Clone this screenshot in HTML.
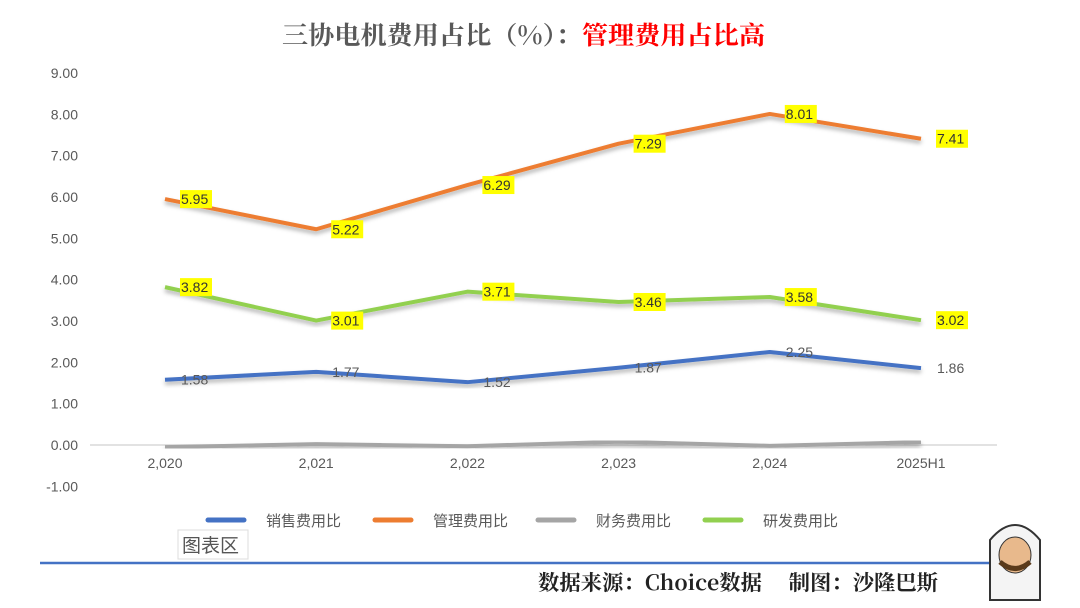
<!DOCTYPE html>
<html><head><meta charset="utf-8"><style>
body{margin:0;background:#fff;width:1080px;height:603px;overflow:hidden;font-family:"Liberation Sans","Noto Sans CJK SC",sans-serif}
</style></head><body>
<svg id="c" width="1080" height="603" xmlns="http://www.w3.org/2000/svg">
<defs><filter id="sh" x="-5%" y="-20%" width="110%" height="140%"><feDropShadow dx="0" dy="3" stdDeviation="2" flood-color="#000" flood-opacity="0.3"/></filter></defs>
<text x="282" y="44" font-size="25" font-weight="bold" fill="#595959" font-family="'Noto Serif CJK SC',serif" textLength="483" lengthAdjust="spacingAndGlyphs">三协电机费用占比（%）：<tspan fill="#ff0000">管理费用占比高</tspan></text>
<g id="axes"></g><g id="series"></g>
<rect x="178" y="530" width="70" height="29" fill="#fff" stroke="#ddd"/>
<text x="182" y="552" font-size="19" fill="#555">图表区</text>
<line x1="40" y1="563" x2="1000" y2="563" stroke="#4472c4" stroke-width="2.5"/>
<text x="538" y="590" font-size="21" fill="#222" font-weight="bold" font-family="'Noto Serif CJK SC',serif" textLength="400" lengthAdjust="spacingAndGlyphs">数据来源：Choice数据　 制图：沙隆巴斯</text>
<g>
<path d="M990 540 Q1015 510 1040 540 L1040 600 L990 600 Z" fill="#f4f4f4" stroke="#333" stroke-width="2"/>
<ellipse cx="1015" cy="555" rx="16" ry="18" fill="#e8b98c" stroke="#333"/>
<path d="M1000 562 Q1015 575 1030 562" stroke="#5a3a1a" stroke-width="5" fill="none"/>
</g>
</svg>
<script>
const categories=["2,020","2,021","2,022","2,023","2,024","2025H1"];
const salesRatio=[1.58,1.77,1.52,1.87,2.25,1.86];
const adminRatio=[5.95,5.22,6.29,7.29,8.01,7.41];
const financeRatio=[-0.05,0.02,-0.03,0.08,-0.02,0.07];
const rdRatio=[3.82,3.01,3.71,3.46,3.58,3.02];
const yTicks=[9,8,7,6,5,4,3,2,1,0,-1];
const NS="http://www.w3.org/2000/svg";
const X=i=>165+i*151.2, Y=v=>445-41.33*v;
function mk(t,a,p){const e=document.createElementNS(NS,t);for(const k in a)e.setAttribute(k,a[k]);p.appendChild(e);return e;}
const ax=document.getElementById('axes'), sg=document.getElementById('series');
yTicks.forEach(v=>{const t=mk('text',{x:78,y:Y(v)+5,'font-size':14,fill:'#595959','text-anchor':'end'},ax);t.textContent=v.toFixed(2);

});
const zl=mk('line',{x1:90,y1:Y(0),x2:997,y2:Y(0),stroke:'#d9d9d9','stroke-width':1.5},ax);


categories.forEach((c,i)=>{const t=mk('text',{x:X(i),y:468,'font-size':14,fill:'#595959','text-anchor':'middle'},ax);t.textContent=c;

});
const series=[
 {name:'sales',vals:salesRatio,color:'#4472c4',hl:false,label:'销售费用比'},
 {name:'admin',vals:adminRatio,color:'#ed7d31',hl:true,label:'管理费用比'},
 {name:'finance',vals:financeRatio,color:'#a5a5a5',hl:null,label:'财务费用比'},
 {name:'rd',vals:rdRatio,color:'#92d050',hl:true,label:'研发费用比'}];
series.forEach((s,si)=>{
 const p=mk('polyline',{points:s.vals.map((v,i)=>X(i)+','+Y(v)).join(' '),fill:'none',stroke:s.color,'stroke-width':4,'stroke-linejoin':'round',filter:'url(#sh)'},sg);
 
 
 if(s.hl!==null){s.vals.forEach((v,i)=>{
  const lx=X(i)+16, ly=Y(v)+5;
  if(s.hl){const r=mk('rect',{x:lx-1,y:ly-14,width:32,height:18,fill:'#ffff00'},sg);
   
   }
  const t=mk('text',{x:lx,y:ly,'font-size':14,fill:s.hl?'#333':'#595959'},sg);t.textContent=v.toFixed(2);
  
  });}
 const lx=[208,375,538,705][si];
 const ll=mk('line',{x1:lx,y1:520,x2:lx+36,y2:520,stroke:s.color,'stroke-width':5,'stroke-linecap':'round'},sg);
 
 
 const lt=mk('text',{x:lx+58,y:526,'font-size':15,fill:'#595959'},sg);lt.textContent=s.label;
 
 
});
</script>
</body></html>
